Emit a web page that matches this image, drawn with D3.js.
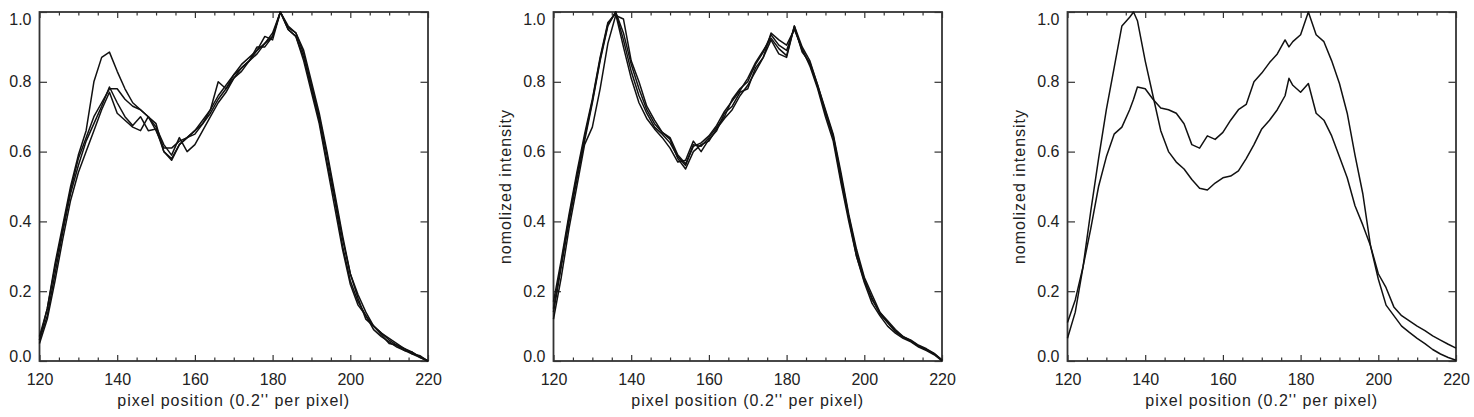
<!DOCTYPE html>
<html>
<head>
<meta charset="utf-8">
<script src="https://cdn.jsdelivr.net/npm/d3@7"></script>
<style>
  html, body { margin: 0; padding: 0; background: #fff; }
  svg { display: block; }
  text { font-family: "Liberation Sans", Arial, Helvetica, sans-serif; fill: #222; }
</style>
</head>
<body>
<svg id="chart" width="1474" height="417"></svg>
<script>
// ---------- data ----------
const xTicks = [120, 140, 160, 180, 200, 220];
const xMinorTicks = [125, 130, 135, 145, 150, 155, 165, 170, 175, 185, 190, 195, 205, 210, 215];
const yTicks = [0.0, 0.2, 0.4, 0.6, 0.8, 1.0];
const xTitle = "pixel position (0.2'' per pixel)";
const yTitle = "nomolized intensity";

// pixel positions (panels 1 & 2)
const xs12 = [120,122,124,126,128,130,132,134,136,138,140,142,144,146,148,150,152,154,156,158,
              160,162,164,166,168,170,172,174,176,178,180,182,184,186,188,190,192,194,196,198,
              200,202,204,206,208,210,212,214,216,218,220];
// pixel positions (panel 3)
const xs3 = [120,122,124,126,128,130,132,134,136,137,138,140,142,144,146,148,150,152,154,156,158,
             160,162,164,166,168,170,172,174,176,177,178,180,182,184,186,188,190,192,194,196,198,
             200,202,204,206,208,210,212,214,216,218,220];

// panel 1 : four profiles
const p1a = [0.06,0.15,0.28,0.39,0.50,0.59,0.66,0.80,0.87,0.885, 0.83,0.78,0.74,0.72,0.70,0.66,0.61,0.61,0.63,0.64,
             0.66,0.68,0.72,0.76,0.79,0.82,0.84,0.86,0.89,0.91, 0.94,1.0,0.95,0.93,0.87,0.78,0.69,0.57,0.46,0.33,
             0.23,0.17,0.13,0.10,0.08,0.06,0.045,0.035,0.025,0.012,0.0];
const p1b = [0.07,0.15,0.27,0.38,0.49,0.58,0.64,0.70,0.74,0.78, 0.78,0.75,0.73,0.72,0.70,0.68,0.60,0.58,0.62,0.64,
             0.65,0.68,0.71,0.75,0.78,0.81,0.84,0.86,0.88,0.91, 0.93,1.0,0.955,0.94,0.88,0.79,0.70,0.59,0.47,0.35,
             0.25,0.18,0.12,0.10,0.08,0.065,0.05,0.035,0.02,0.015,0.0];
const p1c = [0.06,0.13,0.25,0.37,0.48,0.56,0.63,0.68,0.73,0.785, 0.74,0.70,0.675,0.70,0.66,0.665,0.60,0.575,0.62,0.64,
             0.66,0.69,0.72,0.80,0.78,0.82,0.85,0.87,0.89,0.93, 0.92,1.0,0.96,0.94,0.89,0.80,0.71,0.60,0.48,0.36,
             0.25,0.19,0.14,0.10,0.075,0.05,0.045,0.03,0.025,0.01,0.0];
const p1d = [0.05,0.12,0.23,0.35,0.46,0.54,0.60,0.66,0.72,0.77, 0.71,0.69,0.67,0.66,0.70,0.67,0.62,0.59,0.64,0.60,
             0.62,0.66,0.70,0.74,0.77,0.81,0.83,0.86,0.90,0.90, 0.93,1.0,0.95,0.93,0.86,0.77,0.68,0.56,0.44,0.32,
             0.22,0.16,0.13,0.09,0.07,0.055,0.04,0.03,0.02,0.01,0.0];

// panel 2 : four profiles
const p2a = [0.14,0.27,0.40,0.52,0.63,0.74,0.86,0.96,1.0,0.92, 0.83,0.76,0.71,0.67,0.65,0.625,0.585,0.56,0.62,0.615,
             0.64,0.67,0.70,0.75,0.78,0.80,0.85,0.885,0.935,0.905, 0.89,0.955,0.89,0.85,0.785,0.71,0.64,0.52,0.41,0.30,
             0.23,0.18,0.135,0.11,0.085,0.068,0.057,0.042,0.033,0.02,0.003];
const p2b = [0.12,0.24,0.38,0.50,0.62,0.67,0.78,0.91,0.99,0.98, 0.86,0.80,0.73,0.69,0.655,0.635,0.58,0.55,0.60,0.62,
             0.63,0.665,0.695,0.72,0.76,0.79,0.83,0.87,0.92,0.88, 0.87,0.96,0.90,0.86,0.79,0.72,0.65,0.54,0.42,0.32,
             0.24,0.19,0.14,0.115,0.09,0.07,0.06,0.045,0.035,0.022,0.003];
const p2c = [0.17,0.29,0.42,0.54,0.65,0.75,0.87,0.97,0.995,0.90, 0.81,0.74,0.695,0.665,0.64,0.61,0.57,0.575,0.63,0.60,
             0.635,0.66,0.71,0.73,0.77,0.78,0.84,0.87,0.94,0.92, 0.905,0.95,0.895,0.845,0.78,0.70,0.63,0.51,0.40,0.30,
             0.225,0.165,0.13,0.10,0.08,0.065,0.055,0.04,0.03,0.018,0.0];
const p2d = [0.15,0.28,0.41,0.53,0.64,0.745,0.865,0.965,1.0,0.94, 0.85,0.78,0.72,0.68,0.655,0.64,0.59,0.565,0.615,0.625,
             0.645,0.675,0.715,0.745,0.775,0.81,0.855,0.89,0.925,0.895, 0.875,0.96,0.885,0.855,0.79,0.715,0.645,0.53,0.415,0.31,
             0.235,0.175,0.14,0.11,0.085,0.07,0.058,0.043,0.032,0.02,0.002];

// panel 3 : two profiles
const p3a = [0.065,0.14,0.27,0.43,0.58,0.72,0.84,0.96,0.985, 1.0,
             0.975,0.86,0.76,0.66,0.60,0.57,0.55,0.52,0.495,0.49, 0.51,0.525,0.53,0.545,0.58,0.62,0.665,0.69,0.72,0.76,
             0.81,
             0.79,0.77,0.795,0.71,0.69,0.645,0.585,0.525,0.445,0.39, 0.33,0.25,0.21,0.155,0.13,0.115,0.10,0.087,0.072,0.06,
             0.048,0.037];
const p3b = [0.11,0.175,0.27,0.38,0.50,0.585,0.65,0.67,0.72, 0.75,
             0.785,0.78,0.75,0.725,0.72,0.71,0.68,0.62,0.61,0.645, 0.635,0.655,0.69,0.72,0.735,0.80,0.825,0.855,0.88,0.92,
             0.90,
             0.915,0.935,1.0,0.935,0.915,0.86,0.795,0.71,0.59,0.48, 0.33,0.235,0.16,0.13,0.10,0.082,0.065,0.05,0.033,0.02,
             0.01,0.002];

const panels = [
  { left: 39.5,   xs: xs12, series: [p1a, p1b, p1c, p1d], yTitle: false },
  { left: 553.5,  xs: xs12, series: [p2a, p2b, p2c, p2d], yTitle: true },
  { left: 1067.5, xs: xs3,  series: [p3a, p3b],           yTitle: true }
];

// ---------- drawing ----------
const svg = d3.select('#chart');
const W = 388.5, TOP = 12, BOT = 361;
const frameColor = '#333';

panels.forEach(p => {
  const x = d3.scaleLinear().domain([120, 220]).range([p.left, p.left + W]);
  const y = d3.scaleLinear().domain([0, 1]).range([BOT, TOP]);
  const g = svg.append('g');

  const styleAxis = sel => {
    sel.select('.domain').remove();
    sel.selectAll('.tick line').attr('stroke', frameColor).attr('stroke-width', 1.2);
    sel.selectAll('.tick text').style('font-size', '16px').attr('fill', '#222')
       .style('font-family', '"Liberation Sans", Arial, sans-serif');
  };

  // bottom axis (major with labels)
  g.append('g').attr('transform', `translate(0,${BOT})`)
    .call(d3.axisBottom(x).tickValues(xTicks).tickSize(-6).tickPadding(12.5).tickFormat(d3.format('d')))
    .call(styleAxis);
  g.append('g').attr('transform', `translate(0,${BOT})`)
    .call(d3.axisBottom(x).tickValues(xMinorTicks).tickSize(-3.5).tickFormat(''))
    .call(styleAxis);
  // top axis
  g.append('g').attr('transform', `translate(0,${TOP})`)
    .call(d3.axisTop(x).tickValues(xTicks).tickSize(-6).tickFormat(''))
    .call(styleAxis);
  g.append('g').attr('transform', `translate(0,${TOP})`)
    .call(d3.axisTop(x).tickValues(xMinorTicks).tickSize(-3.5).tickFormat(''))
    .call(styleAxis);
  // left axis with labels
  const yl = g.append('g').attr('transform', `translate(${p.left},0)`)
    .call(d3.axisLeft(y).tickValues(yTicks).tickSize(-7.5).tickPadding(8).tickFormat(d3.format('.1f')))
    .call(styleAxis);
  yl.selectAll('.tick text').attr('dy', d => d === 1 ? '0.8em' : (d === 0 ? '0.05em' : '0.32em'));
  // right axis
  g.append('g').attr('transform', `translate(${p.left + W},0)`)
    .call(d3.axisRight(y).tickValues(yTicks).tickSize(-7.5).tickFormat(''))
    .call(styleAxis);

  // frame
  g.append('rect')
    .attr('x', x(120)).attr('y', y(1))
    .attr('width', x(220) - x(120)).attr('height', y(0) - y(1))
    .attr('fill', 'none').attr('stroke', frameColor).attr('stroke-width', 1.8);

  // profiles
  const line = d3.line().x((d, i) => x(p.xs[i])).y(d => y(d));
  p.series.forEach(s => {
    g.append('path').datum(s)
      .attr('d', line)
      .attr('fill', 'none')
      .attr('stroke', '#111')
      .attr('stroke-width', 1.5)
      .attr('stroke-linejoin', 'round');
  });

  // x title
  g.append('text')
    .attr('x', (x(120) + x(220)) / 2).attr('y', 405.5)
    .attr('text-anchor', 'middle')
    .style('font-size', '16px').style('letter-spacing', '1px')
    .text(xTitle);

  // y title
  if (p.yTitle) {
    const cx = p.left - 43, cy = (TOP + BOT) / 2;
    g.append('text')
      .attr('transform', `translate(${cx},${cy}) rotate(-90)`)
      .attr('text-anchor', 'middle')
      .style('font-size', '16px').style('letter-spacing', '1px')
      .text(yTitle);
  }
});
</script>
</body>
</html>
